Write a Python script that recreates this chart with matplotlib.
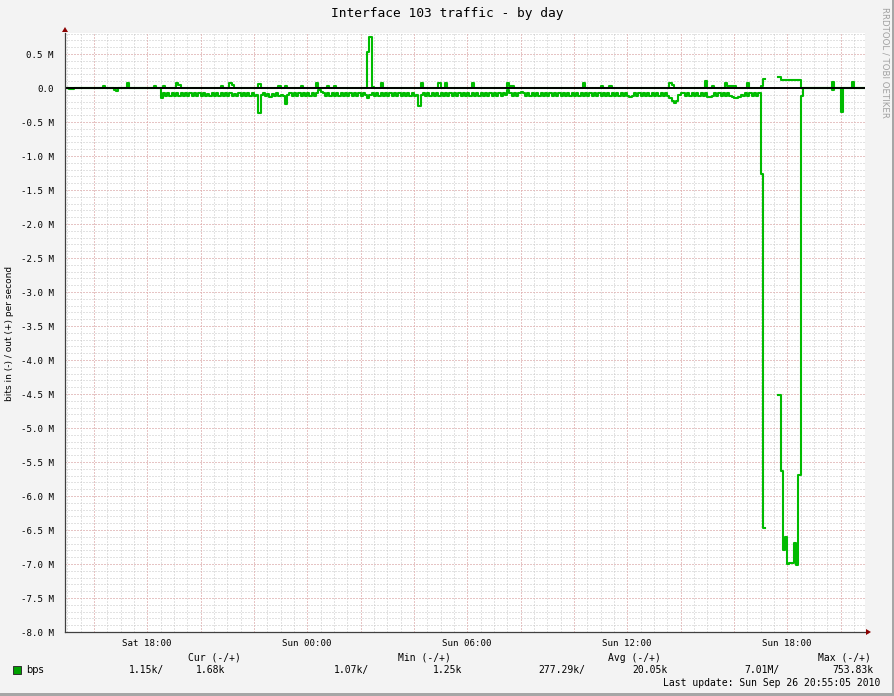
import numpy as np
import matplotlib
matplotlib.use("Agg")
import matplotlib.pyplot as plt
from matplotlib.patches import Polygon, Rectangle

nan = float("nan")

# ---------------- data (kbit/s, one value per 5-minute step) ----------------
start_time = "2010-09-25T14:55"
end_time = "2010-09-26T20:55"

bits_in = [
    5, 5, 20, 10, 3, 3, 3, 3, 3, 3, 3, 3, 3, 3, 3, 3, 3, 3, 3, 3,
    3, 3, 30, 40, 3, 3, 3, 3, 3, 3, 3, 3, 3, 3, 3, 3, 3, 3, 3, 3,
    3, 3, 3, 145, 72, 120, 72, 120, 72, 120, 72, 120, 72, 120, 72, 120, 72, 120, 72, 120,
    72, 120, 72, 120, 90, 120, 72, 120, 72, 120, 72, 120, 72, 110, 72, 120, 90, 120, 72, 120,
    72, 120, 72, 120, 72, 120, 100, 360, 100, 72, 120, 90, 125, 90, 120, 72, 120, 100, 120, 235,
    100, 72, 120, 72, 120, 72, 120, 72, 120, 72, 120, 72, 120, 72, 30, 60, 72, 120, 72, 120,
    72, 120, 72, 120, 72, 120, 72, 120, 72, 120, 72, 120, 72, 120, 72, 100, 140, 100, 72, 120,
    72, 120, 72, 120, 72, 120, 72, 120, 72, 120, 72, 120, 72, 120, 72, 120, 72, 120, 100, 260,
    100, 72, 120, 72, 120, 72, 120, 72, 120, 72, 120, 72, 120, 72, 120, 72, 120, 72, 120, 72,
    120, 72, 120, 72, 120, 72, 120, 72, 120, 72, 120, 72, 120, 72, 120, 72, 120, 72, 100, 30,
    72, 120, 72, 120, 72, 60, 72, 120, 72, 120, 72, 120, 72, 120, 72, 120, 72, 120, 72, 120,
    72, 120, 72, 120, 72, 120, 72, 120, 72, 120, 72, 120, 72, 120, 72, 120, 72, 120, 72, 120,
    72, 120, 72, 120, 72, 120, 72, 120, 72, 120, 72, 120, 72, 120, 125, 120, 72, 120, 72, 120,
    72, 120, 72, 120, 72, 120, 72, 120, 72, 120, 72, 120, 150, 190, 220, 190, 100, 70, 72, 120,
    72, 120, 72, 120, 72, 120, 72, 120, 72, 125, 125, 120, 72, 120, 72, 120, 72, 120, 72, 120,
    125, 140, 140, 125, 100, 120, 72, 120, 72, 120, 72, 120, 72, 1260, 6475, nan, nan, nan, nan, nan,
    nan, 4510, 5630, 6790, 6600, 7000, 6980, 6980, 6690, 7010, 5690, 110, 3, 3, 3, 3, 3, 3, 3, 3,
    3, 3, 3, 3, 3, 30, 3, 3, 3, 350, 3, 3, 3, 3, 3, 3, 3, 3, 3, 3,
]

bits_out = [
    2, 2, 2, 2, 2, 2, 2, 2, 2, 2, 2, 2, 2, 2, 2, 2, 2, 25, 2, 2,
    2, 2, 2, 2, 2, 2, 2, 2, 80, 2, 2, 2, 2, 2, 2, 2, 2, 2, 2, 2,
    25, 2, 2, 2, 25, 2, 2, 2, 2, 2, 70, 45, 2, 2, 2, 2, 2, 2, 2, 2,
    2, 2, 2, 2, 2, 2, 2, 2, 2, 2, 25, 2, 2, 2, 80, 45, 2, 2, 2, 2,
    2, 2, 2, 2, 2, 2, 2, 65, 2, 2, 2, 2, 2, 2, 2, 2, 25, 2, 2, 25,
    2, 2, 2, 2, 2, 2, 25, 2, 2, 2, 2, 2, 2, 80, 2, 2, 2, 2, 30, 2,
    2, 25, 2, 2, 2, 2, 2, 2, 2, 2, 2, 2, 2, 2, 2, 2, 525, 754, 20, 2,
    2, 2, 80, 2, 2, 2, 2, 2, 2, 2, 2, 2, 2, 2, 2, 2, 2, 2, 2, 2,
    80, 2, 2, 2, 2, 2, 2, 2, 80, 2, 2, 70, 2, 2, 2, 2, 2, 2, 2, 2,
    2, 2, 2, 80, 2, 2, 2, 2, 2, 2, 2, 2, 2, 2, 2, 2, 2, 2, 2, 80,
    30, 30, 2, 2, 2, 2, 2, 2, 2, 2, 2, 2, 2, 2, 2, 2, 2, 2, 2, 2,
    2, 2, 2, 2, 2, 2, 2, 2, 2, 2, 2, 2, 2, 80, 2, 2, 2, 2, 2, 2,
    2, 25, 2, 2, 2, 25, 2, 2, 2, 2, 2, 2, 2, 2, 2, 2, 2, 2, 2, 2,
    2, 2, 2, 2, 2, 2, 2, 2, 2, 2, 2, 2, 80, 45, 2, 2, 2, 2, 2, 2,
    2, 2, 2, 2, 2, 2, 2, 2, 100, 2, 2, 25, 2, 2, 2, 2, 2, 80, 25, 25,
    25, 25, 2, 2, 2, 2, 2, 80, 2, 2, 2, 2, 2, 35, 140, nan, nan, nan, nan, nan,
    nan, 170, 120, 120, 120, 120, 120, 120, 120, 120, 120, 2, 2, 2, 2, 2, 2, 2, 2, 2,
    2, 2, 2, 2, 2, 85, 2, 2, 2, 2, 2, 2, 2, 2, 85, 2, 2, 2, 2, 2,
]

y_ticks = [0.5, 0.0, -0.5, -1.0, -1.5, -2.0, -2.5, -3.0, -3.5, -4.0, -4.5, -5.0,
           -5.5, -6.0, -6.5, -7.0, -7.5, -8.0]
y_tick_labels = ["0.5 M", "0.0", "-0.5 M", "-1.0 M", "-1.5 M", "-2.0 M", "-2.5 M",
                 "-3.0 M", "-3.5 M", "-4.0 M", "-4.5 M", "-5.0 M", "-5.5 M", "-6.0 M",
                 "-6.5 M", "-7.0 M", "-7.5 M", "-8.0 M"]
x_ticks = ["2010-09-25T18:00", "2010-09-26T00:00", "2010-09-26T06:00",
           "2010-09-26T12:00", "2010-09-26T18:00"]
x_tick_labels = ["Sat 18:00", "Sun 00:00", "Sun 06:00", "Sun 12:00", "Sun 18:00"]

legend_headers = ["Cur (-/+)", "Min (-/+)", "Avg (-/+)", "Max (-/+)"]
legend_values = ["1.15k/", "1.68k", "1.07k/", "1.25k", "277.29k/", "20.05k", "7.01M/", "753.83k"]
title = "Interface 103 traffic - by day"
y_label = "bits in (-) / out (+) per second"
last_update = "Last update: Sun Sep 26 20:55:05 2010"

# ---------------- layout ----------------
W, H = 895, 696
L, R, T, B = 65, 865, 33, 632
ymin, ymax = -8.0, 0.81
BACK, GRID, MGRID = "#F3F3F3", "#C6C6C6", "#EBA8A8"
GREEN = "#00BB00"
MONO, SANS = "DejaVu Sans Mono", "DejaVu Sans"


def fx(x):
    return x / W


def fy(y):
    return 1 - y / H


fig = plt.figure(figsize=(W / 100, H / 100), dpi=100, facecolor=BACK)
# 3D-ish frame
fig.add_artist(Rectangle((fx(W - 3), 0), fx(3), 1, transform=fig.transFigure,
                         color="#A6A6A6", lw=0))
fig.add_artist(Rectangle((0, 0), 1, 1 - fy(3), transform=fig.transFigure,
                         color="#A6A6A6", lw=0))

ax = fig.add_axes([fx(L), fy(B), fx(R - L), (B - T) / H])
ax.set_facecolor("white")

t0 = np.datetime64(start_time)
t1 = np.datetime64(end_time)
step = np.timedelta64(5, "m")
edges = np.arange(t0, t1 + step, step)

vin = -np.array(bits_in, dtype=float) / 1000.0
vout = np.array(bits_out, dtype=float) / 1000.0
vin = np.append(vin, vin[-1])
vout = np.append(vout, vout[-1])

ax.set_xlim(t0, t1)
ax.set_ylim(ymin, ymax)

# grid
xtr = ax.get_xaxis_transform()
ytr = ax.get_yaxis_transform()
minor_x = np.arange(np.datetime64("2010-09-25T15:00"), t1, np.timedelta64(30, "m"))
major_x = np.arange(np.datetime64("2010-09-25T16:00"), t1, np.timedelta64(2, "h"))
minor_y = np.round(np.arange(-8.0, ymax, 0.1), 2)
dots = (0, (1, 2))
ax.vlines(minor_x, 0, 1, transform=xtr, colors=GRID, lw=0.72, linestyles=dots, zorder=1)
ax.hlines(minor_y, 0, 1, transform=ytr, colors=GRID, lw=0.72, linestyles=dots, zorder=1)
ax.vlines(major_x, 0, 1, transform=xtr, colors=MGRID, lw=0.72, linestyles=dots, zorder=1.5)
ax.hlines(y_ticks, 0, 1, transform=ytr, colors=MGRID, lw=0.72, linestyles=dots, zorder=1.5)

# data
ax.plot(edges, vout, drawstyle="steps-post", color=GREEN, lw=1.5, zorder=3)
ax.plot(edges, vin, drawstyle="steps-post", color=GREEN, lw=1.5, zorder=3)
ax.axhline(0, color="black", lw=1.4, zorder=4)

for s in ax.spines.values():
    s.set_visible(False)
ax.plot([0, 0], [0, 1], transform=ax.transAxes, color="#404040", lw=0.9,
        clip_on=False, zorder=5)
ax.plot([0, 1.004], [0, 0], transform=ax.transAxes, color="#404040", lw=0.9,
        clip_on=False, zorder=5)
# arrows
fig.add_artist(Polygon([(fx(L - 3), fy(T - 1)), (fx(L + 3), fy(T - 1)), (fx(L), fy(T - 6))],
                       closed=True, transform=fig.transFigure, color="#8B0000", lw=0))
fig.add_artist(Polygon([(fx(R + 1), fy(B - 3)), (fx(R + 1), fy(B + 3)), (fx(R + 6), fy(B))],
                       closed=True, transform=fig.transFigure, color="#8B0000", lw=0))

ax.set_yticks(y_ticks)
ax.set_yticklabels(y_tick_labels, fontfamily=MONO, fontsize=6.6)
ax.set_xticks([np.datetime64(t) for t in x_ticks])
ax.set_xticklabels(x_tick_labels, fontfamily=MONO, fontsize=6.6)
ax.tick_params(axis="y", length=0, pad=8)
ax.tick_params(axis="x", length=0, pad=5)

# texts
fig.text(fx(447), fy(13), title, ha="center", va="center", fontfamily=MONO, fontsize=9.3)
fig.text(fx(10), fy(333), y_label, ha="center", va="center", rotation=90,
         fontfamily=SANS, fontsize=6.5)
fig.text(fx(885), fy(62), "RRDTOOL / TOBI OETIKER", ha="center", va="center",
         rotation=270, fontfamily=SANS, fontsize=6.2, color="#A0A0A0")

for txt, xr in zip(legend_headers, [241, 451, 661, 871]):
    fig.text(fx(xr), fy(658), txt, ha="right", va="center", fontfamily=MONO, fontsize=7)
fig.add_artist(Rectangle((fx(13), fy(674)), fx(8), 8 / H, transform=fig.transFigure,
                         facecolor="#00A000", edgecolor="#303030", lw=0.7))
fig.text(fx(26), fy(670), "bps", ha="left", va="center", fontfamily=SANS, fontsize=7)
for txt, xr in zip(legend_values, [164, 225, 369, 462, 585, 668, 780, 873]):
    fig.text(fx(xr), fy(670), txt, ha="right", va="center", fontfamily=MONO, fontsize=7)
fig.text(fx(880), fy(683), last_update, ha="right", va="center", fontfamily=MONO, fontsize=7)

fig.savefig("out.png", dpi=100, facecolor=BACK)
